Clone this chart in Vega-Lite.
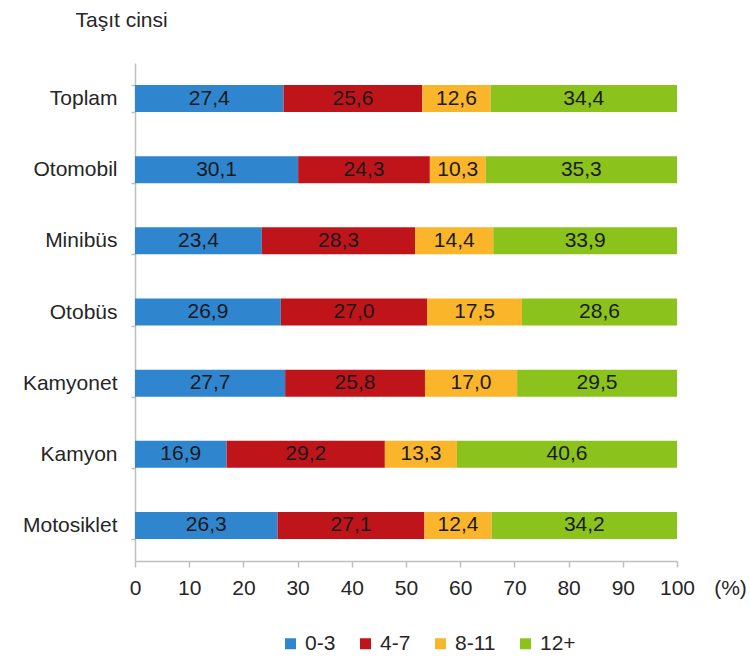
{
  "$schema": "https://vega.github.io/schema/vega-lite/v6.json",
  "width": 542,
  "height": 498,
  "autosize": {"type": "none"},
  "padding": {"left": 135, "top": 63, "right": 73, "bottom": 99},
  "background": "white",
  "config": {
    "view": {"stroke": null},
    "font": "Liberation Sans",
    "text": {"font": "Liberation Sans"}
  },
  "data": {
    "values": [
      {"tasit": "Toplam", "yas": "0-3", "pct": 27.4},
      {"tasit": "Toplam", "yas": "4-7", "pct": 25.6},
      {"tasit": "Toplam", "yas": "8-11", "pct": 12.6},
      {"tasit": "Toplam", "yas": "12+", "pct": 34.4},
      {"tasit": "Otomobil", "yas": "0-3", "pct": 30.1},
      {"tasit": "Otomobil", "yas": "4-7", "pct": 24.3},
      {"tasit": "Otomobil", "yas": "8-11", "pct": 10.3},
      {"tasit": "Otomobil", "yas": "12+", "pct": 35.3},
      {"tasit": "Minibüs", "yas": "0-3", "pct": 23.4},
      {"tasit": "Minibüs", "yas": "4-7", "pct": 28.3},
      {"tasit": "Minibüs", "yas": "8-11", "pct": 14.4},
      {"tasit": "Minibüs", "yas": "12+", "pct": 33.9},
      {"tasit": "Otobüs", "yas": "0-3", "pct": 26.9},
      {"tasit": "Otobüs", "yas": "4-7", "pct": 27.0},
      {"tasit": "Otobüs", "yas": "8-11", "pct": 17.5},
      {"tasit": "Otobüs", "yas": "12+", "pct": 28.6},
      {"tasit": "Kamyonet", "yas": "0-3", "pct": 27.7},
      {"tasit": "Kamyonet", "yas": "4-7", "pct": 25.8},
      {"tasit": "Kamyonet", "yas": "8-11", "pct": 17.0},
      {"tasit": "Kamyonet", "yas": "12+", "pct": 29.5},
      {"tasit": "Kamyon", "yas": "0-3", "pct": 16.9},
      {"tasit": "Kamyon", "yas": "4-7", "pct": 29.2},
      {"tasit": "Kamyon", "yas": "8-11", "pct": 13.3},
      {"tasit": "Kamyon", "yas": "12+", "pct": 40.6},
      {"tasit": "Motosiklet", "yas": "0-3", "pct": 26.3},
      {"tasit": "Motosiklet", "yas": "4-7", "pct": 27.1},
      {"tasit": "Motosiklet", "yas": "8-11", "pct": 12.4},
      {"tasit": "Motosiklet", "yas": "12+", "pct": 34.2}
    ]
  },
  "transform": [
    {"calculate": "indexof(['0-3','4-7','8-11','12+'], datum.yas)", "as": "ord"},
    {"stack": "pct", "groupby": ["tasit"], "sort": [{"field": "ord", "order": "ascending"}], "as": ["x0", "x1"]},
    {"calculate": "(datum.x0 + datum.x1) / 2", "as": "xm"},
    {"calculate": "replace(format(datum.pct, '.1f'), '.', ',')", "as": "lbl"}
  ],
  "encoding": {
    "y": {
      "field": "tasit",
      "type": "nominal",
      "sort": ["Toplam", "Otomobil", "Minibüs", "Otobüs", "Kamyonet", "Kamyon", "Motosiklet"],
      "scale": {"paddingInner": 0.62, "paddingOuter": 0.31},
      "axis": {
        "title": "Taşıt cinsi",
        "titleAngle": 0,
        "titleAlign": "left",
        "titleBaseline": "middle",
        "titleX": -60,
        "titleY": -43,
        "titleFontSize": 21,
        "titleFontWeight": "normal",
        "titleColor": "#262626",
        "titleFont": "Liberation Sans",
        "labelFontSize": 21,
        "labelColor": "#262626",
        "labelFont": "Liberation Sans",
        "labelPadding": 14,
        "ticks": true,
        "tickBand": "extent",
        "tickSize": 4,
        "tickColor": "#bfbfbf",
        "tickWidth": 1.5,
        "domainColor": "#bfbfbf",
        "domainWidth": 1.5
      }
    }
  },
  "layer": [
    {
      "mark": {"type": "bar"},
      "encoding": {
        "x": {
          "field": "x0",
          "type": "quantitative",
          "scale": {"domain": [0, 100], "nice": false},
          "axis": {
            "values": [0, 10, 20, 30, 40, 50, 60, 70, 80, 90, 100],
            "grid": false,
            "title": "(%)",
            "titleX": 595,
            "titleY": 27,
            "titleAlign": "center",
            "titleBaseline": "middle",
            "titleFontSize": 21,
            "titleFontWeight": "normal",
            "titleColor": "#262626",
            "titleFont": "Liberation Sans",
            "labelFontSize": 21,
            "labelColor": "#262626",
            "labelFont": "Liberation Sans",
            "labelPadding": 10,
            "tickSize": 6,
            "tickColor": "#bfbfbf",
            "tickWidth": 1.5,
            "domainColor": "#bfbfbf",
            "domainWidth": 1.5,
            "labelFlush": false
          }
        },
        "x2": {"field": "x1"},
        "color": {
          "field": "yas",
          "type": "nominal",
          "scale": {
            "domain": ["0-3", "4-7", "8-11", "12+"],
            "range": ["#2f86cf", "#c0141b", "#fbb52b", "#8bc21c"]
          },
          "legend": {
            "title": null,
            "orient": "none",
            "direction": "horizontal",
            "legendX": 145,
            "legendY": 570,
            "symbolType": "square",
            "symbolSize": 121,
            "symbolStrokeWidth": 0,
            "labelFontSize": 21,
            "labelColor": "#262626",
            "labelFont": "Liberation Sans",
            "labelOffset": 4,
            "columnPadding": 19
          }
        }
      }
    },
    {
      "mark": {"type": "text", "fontSize": 21, "color": "#1a1a1a", "align": "center", "baseline": "middle", "font": "Liberation Sans"},
      "encoding": {
        "x": {"field": "xm", "type": "quantitative"},
        "text": {"field": "lbl", "type": "nominal"}
      }
    }
  ]
}
